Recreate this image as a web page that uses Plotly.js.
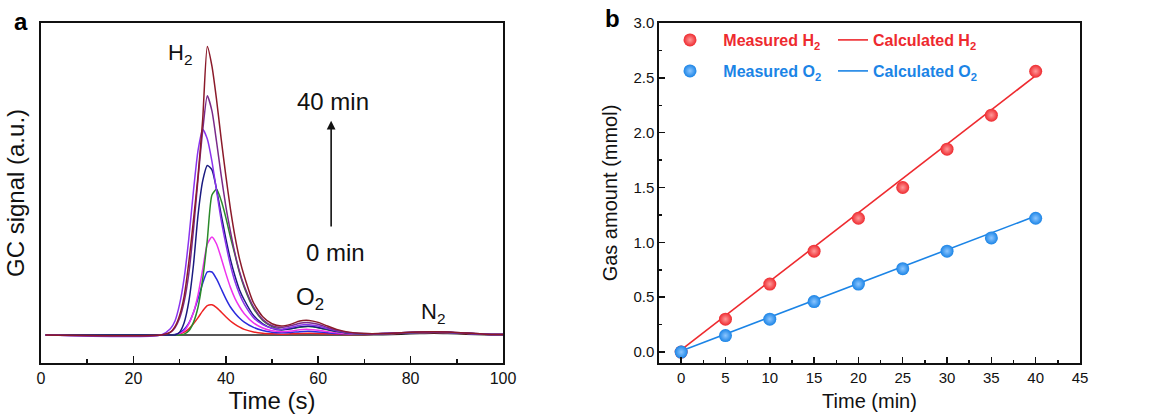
<!DOCTYPE html>
<html>
<head>
<meta charset="utf-8">
<script src="https://cdn.plot.ly/plotly-3.0.1.min.js"></script>
<style>html,body{margin:0;padding:0;background:#fff;}#chart{width:1156px;height:416px;}</style>
</head>
<body>
<div id="chart"></div>
<script>
// ---------- Panel a: GC chromatograms ----------
const gcTime = [1, 26, 28, 29, 30, 31, 32, 33, 34, 35, 36, 37, 38, 39, 40, 41, 42, 43, 44, 46, 48, 50, 52, 54, 56, 58, 60, 62, 64, 66, 70, 74, 78, 82, 85, 88, 92, 96, 100];
const gc0min  = [0,0,0,0,0,0,0,0,0,0,0,0,0,0,0,0,0,0,0,0,0,0,0,0,0,0,0,0,0,0,0,0.01,0.03,0.05,0.06,0.05,0.03,0.01,0.01];
const gc5min  = [0,0,0,0.01,0.04,0.1,0.22,0.4,0.62,0.86,1.05,1.08,0.98,0.82,0.65,0.5,0.38,0.28,0.2,0.11,0.06,0.04,0.03,0.04,0.05,0.06,0.05,0.04,0.03,0.02,0.02,0.03,0.06,0.08,0.09,0.08,0.05,0.03,0.02];
const gc10min = [0,0,0,0.02,0.07,0.2,0.42,0.8,1.3,1.85,2.25,2.25,2.0,1.65,1.3,1.0,0.78,0.6,0.46,0.27,0.16,0.1,0.08,0.09,0.12,0.13,0.11,0.08,0.05,0.04,0.03,0.04,0.07,0.09,0.1,0.09,0.06,0.03,0.02];
const gc15min = [0,0,0,0.01,0.05,0.15,0.4,0.8,1.45,2.35,3.25,3.5,3.25,2.75,2.2,1.7,1.3,1.0,0.76,0.43,0.25,0.15,0.12,0.14,0.19,0.2,0.17,0.12,0.08,0.05,0.03,0.04,0.07,0.09,0.1,0.09,0.06,0.03,0.02];
const gc20min = [0,0,0,0,0,0.03,0.15,0.45,1.0,2.0,3.4,5.0,5.2,4.8,4.2,3.5,2.85,2.2,1.7,0.95,0.52,0.3,0.2,0.22,0.28,0.3,0.26,0.19,0.12,0.07,0.03,0.04,0.07,0.09,0.1,0.09,0.06,0.03,0.02];
const gc25min = [0,0,0,0,0.1,0.45,1.2,2.5,4.3,5.5,6.05,5.9,5.2,4.3,3.45,2.7,2.1,1.6,1.25,0.7,0.4,0.24,0.18,0.22,0.29,0.31,0.27,0.2,0.13,0.08,0.04,0.05,0.08,0.1,0.11,0.1,0.06,0.03,0.02];
const gc30min = [0,0,0.22,0.5,1.1,2.05,3.45,5.15,6.6,7.35,7.0,6.2,5.15,4.1,3.25,2.5,1.9,1.45,1.1,0.62,0.37,0.24,0.2,0.27,0.35,0.37,0.32,0.23,0.15,0.09,0.04,0.05,0.08,0.1,0.11,0.1,0.06,0.03,0.02];
const gc35min = [0,0,0.09,0.26,0.6,1.2,2.2,3.75,5.6,7.3,8.54,8.0,6.9,5.7,4.6,3.7,2.9,2.25,1.75,1.0,0.55,0.33,0.27,0.33,0.42,0.44,0.38,0.27,0.17,0.1,0.05,0.05,0.08,0.11,0.12,0.11,0.07,0.03,0.02];
const gc40min = [0,0,0.1,0.3,0.7,1.4,2.6,4.1,5.7,7.7,10.3,9.6,8.4,7.0,5.7,4.5,3.5,2.7,2.1,1.15,0.65,0.4,0.32,0.38,0.5,0.52,0.45,0.32,0.2,0.12,0.05,0.05,0.08,0.11,0.12,0.11,0.07,0.03,0.02];
const gcSeries = [gc0min, gc5min, gc10min, gc15min, gc20min, gc25min, gc30min, gc35min, gc40min];
const gcNames = ['0 min','5 min','10 min','15 min','20 min','25 min','30 min','35 min','40 min'];
const gcColors = ['#222222','#ee2222','#2b2bdd','#ee33ee','#2a8a2a','#1a1a80','#8a33ee','#7a2a8a','#8b1a2a'];
const gcTicks = [0, 20, 40, 60, 80, 100];

// ---------- Panel b: gas amounts ----------
const timeMin = [0, 5, 10, 15, 20, 25, 30, 35, 40];
const measuredH2 = [0.0, 0.30, 0.62, 0.92, 1.22, 1.50, 1.85, 2.16, 2.56];
const measuredO2 = [0.0, 0.15, 0.30, 0.46, 0.62, 0.76, 0.92, 1.04, 1.22];
const calcTime = [0, 40];
const calculatedH2 = [0.02, 2.52];
const calculatedO2 = [0.01, 1.24];

const RED = '#ee2a2f';
const BLUE = '#1b84e6';
const FONT = 'Arial, "Liberation Sans", sans-serif';

const traces = [];
gcSeries.forEach((ys, i) => {
  traces.push({
    x: gcTime, y: ys, type: 'scatter', mode: 'lines', name: gcNames[i],
    xaxis: 'x', yaxis: 'y', showlegend: false,
    line: {color: gcColors[i], width: 1.5, shape: 'spline', smoothing: 0.6},
    hoverinfo: 'skip'
  });
});

traces.push({
  x: calcTime, y: calculatedH2, type: 'scatter', mode: 'lines', name: 'Calculated H<sub>2</sub>',
  xaxis: 'x2', yaxis: 'y2', legend: 'legend3',
  line: {color: RED, width: 1.6}
});
traces.push({
  x: calcTime, y: calculatedO2, type: 'scatter', mode: 'lines', name: 'Calculated O<sub>2</sub>',
  xaxis: 'x2', yaxis: 'y2', legend: 'legend4',
  line: {color: BLUE, width: 1.6}
});
traces.push({
  x: timeMin, y: measuredH2, type: 'scatter', mode: 'markers', name: '\u00a0\u00a0\u00a0Measured H<sub>2</sub>',
  xaxis: 'x2', yaxis: 'y2', legend: 'legend',
  marker: {color: RED, size: 13, line: {width: 0}, gradient: {type: 'radial', color: '#ff9a9a'}}
});
traces.push({
  x: timeMin, y: measuredO2, type: 'scatter', mode: 'markers', name: '\u00a0\u00a0\u00a0Measured O<sub>2</sub>',
  xaxis: 'x2', yaxis: 'y2', legend: 'legend2',
  marker: {color: BLUE, size: 13, line: {width: 0}, gradient: {type: 'radial', color: '#8cc6ff'}}
});

function legendAt(xPx, yPx, color) {
  return {
    x: xPx / 1156, y: 1 - yPx / 416, xref: 'paper', yref: 'paper',
    xanchor: 'left', yanchor: 'middle', bgcolor: 'rgba(0,0,0,0)', borderwidth: 0,
    font: {family: FONT, size: 16, color: color, weight: 'bold'},
    itemsizing: 'trace'
  };
}

const axisCommon = {
  showline: true, mirror: true, linecolor: '#111', linewidth: 1.6,
  showgrid: false, zeroline: false, ticks: 'inside', tickcolor: '#111',
  tickwidth: 1.5, automargin: false, fixedrange: true
};

const ann = [
  {text: '<b>a</b>', x: 21 / 1156, y: 1 - 21 / 416, xref: 'paper', yref: 'paper', xanchor: 'center', yanchor: 'middle', showarrow: false, font: {family: FONT, size: 24, color: '#000'}},
  {text: '<b>b</b>', x: 612 / 1156, y: 1 - 19 / 416, xref: 'paper', yref: 'paper', xanchor: 'center', yanchor: 'middle', showarrow: false, font: {family: FONT, size: 24, color: '#000'}},
  {text: 'H<sub>2</sub>', x: 27.0, y: 10.05, xref: 'x', yref: 'y', xanchor: 'left', yanchor: 'middle', showarrow: false, font: {family: FONT, size: 22, color: '#111'}},
  {text: 'O<sub>2</sub>', x: 54.8, y: 1.3, xref: 'x', yref: 'y', xanchor: 'left', yanchor: 'middle', showarrow: false, font: {family: FONT, size: 24, color: '#111'}},
  {text: 'N<sub>2</sub>', x: 81.8, y: 0.8, xref: 'x', yref: 'y', xanchor: 'left', yanchor: 'middle', showarrow: false, font: {family: FONT, size: 22, color: '#111'}},
  {text: '40 min', x: 63.3, y: 8.32, xref: 'x', yref: 'y', xanchor: 'center', yanchor: 'middle', showarrow: false, font: {family: FONT, size: 24, color: '#111'}},
  {text: '0 min', x: 63.7, y: 2.93, xref: 'x', yref: 'y', xanchor: 'center', yanchor: 'middle', showarrow: false, font: {family: FONT, size: 24, color: '#111'}},
  {text: ' ', x: 62.8, y: 7.65, ax: 62.8, ay: 3.57, xref: 'x', yref: 'y', axref: 'x', ayref: 'y', showarrow: true, arrowhead: 2, arrowsize: 1.1, arrowwidth: 1.6, arrowcolor: '#111', standoff: 0, startstandoff: 0}
];

const layout = {
  width: 1156, height: 416,
  margin: {l: 0, r: 0, t: 0, b: 0},
  paper_bgcolor: '#fff', plot_bgcolor: '#fff',
  font: {family: FONT, color: '#111'},
  xaxis: Object.assign({}, axisCommon, {
    domain: [41 / 1156, 503 / 1156], anchor: 'y', range: [0, 100],
    tickvals: gcTicks, ticklen: 7,
    minor: {dtick: 10, tick0: 0, ticklen: 4, ticks: 'inside', tickcolor: '#111', tickwidth: 1.5},
    tickfont: {family: FONT, size: 16, color: '#111'},
    title: {text: 'Time (s)', font: {family: FONT, size: 24, color: '#111'}, standoff: 5}
  }),
  yaxis: Object.assign({}, axisCommon, {
    domain: [1 - 363 / 416, 1 - 23 / 416], anchor: 'x', range: [-1, 11.14],
    ticks: '', showticklabels: false,
    title: {text: 'GC signal (a.u.)', font: {family: FONT, size: 24, color: '#111'}, standoff: 8}
  }),
  xaxis2: Object.assign({}, axisCommon, {
    domain: [659 / 1156, 1080 / 1156], anchor: 'y2', range: [-2.5, 45],
    dtick: 5, tick0: 0, ticklen: 6,
    minor: {dtick: 2.5, tick0: 0, ticklen: 3, ticks: 'inside', tickcolor: '#111', tickwidth: 1.5},
    tickfont: {family: FONT, size: 15, color: '#111'},
    title: {text: 'Time (min)', font: {family: FONT, size: 20, color: '#111'}, standoff: 9}
  }),
  yaxis2: Object.assign({}, axisCommon, {
    domain: [1 - 363 / 416, 1 - 23 / 416], anchor: 'x2', range: [-0.1, 3.0],
    dtick: 0.5, tick0: 0, ticklen: 6, tickformat: '.1f',
    minor: {dtick: 0.25, tick0: 0, ticklen: 3, ticks: 'inside', tickcolor: '#111', tickwidth: 1.5},
    tickfont: {family: FONT, size: 15, color: '#111'},
    title: {text: 'Gas amount (mmol)', font: {family: FONT, size: 20, color: '#111'}, standoff: 10}
  }),
  showlegend: true,
  legend: legendAt(670, 40, RED),
  legend2: legendAt(670, 71, BLUE),
  legend3: legendAt(833, 40, RED),
  legend4: legendAt(833, 71, BLUE),
  annotations: ann
};

Plotly.newPlot('chart', traces, layout, {staticPlot: true, displayModeBar: false});
</script>
</body>
</html>
